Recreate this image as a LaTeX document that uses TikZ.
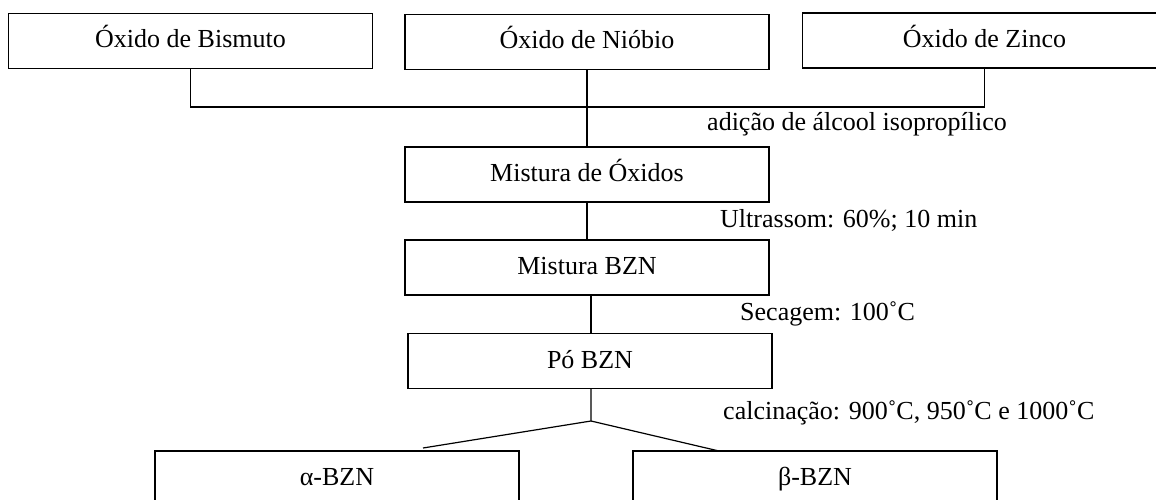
\documentclass[tikz,border=0pt]{standalone}
\usepackage{fontspec}
\setmainfont{Liberation Serif}
\begin{document}
\begin{tikzpicture}[x=1pt,y=-1pt,
  box/.style={draw, line width=1.2pt, inner sep=0pt, minimum width=364pt, minimum height=55pt,
    text height=20pt, text depth=6pt, font=\fontsize{26}{30}\selectfont},
  lbl/.style={inner sep=0pt, anchor=base west, font=\fontsize{26}{30}\selectfont},
  conn/.style={line width=1.2pt}]
\clip (0,0) rectangle (1156,500);
\node[box] (bi) at (190.5,41) {Óxido de Bismuto};
\node[box] (ni) at (587,42) {Óxido de Nióbio};
\node[box] (zn) at (984.5,40.5) {Óxido de Zinco};
\node[box] (mo) at (587,174.5) {Mistura de Óxidos};
\node[box] (mb) at (587,267.5) {Mistura BZN};
\node[box] (pb) at (590,361) {Pó BZN};
\node[box] (ab) at (337,478.5) {α-BZN};
\node[box] (bb) at (815,478.5) {β-BZN};
\coordinate (j1) at (588,107);
\coordinate (br) at (591,421);
\coordinate (la) at (423,448);
\coordinate (ra) at (719,451);
\draw[conn] (bi.south) |- (zn.south |- j1) -- (zn.south);
\draw[conn] (ni.south) -- (mo.north);
\draw[conn] (mo.south) -- (mb.north);
\draw[conn] (br |- mb.south) -- (br |- pb.north);
\draw[conn] (br |- pb.south) -- (br) -- (la);
\draw[conn] (br) -- (ra);
\node[lbl] (t1) at (707,131) {adição de álcool isopropílico};
\node[lbl] (t2) at (720,227) {Ultrassom: 60\%; 10 min};
\node[lbl] (t3) at (740,320) {Secagem: 100˚C};
\node[lbl] (t4) at (723,419) {calcinação: 900˚C, 950˚C e 1000˚C};
\end{tikzpicture}
\end{document}
